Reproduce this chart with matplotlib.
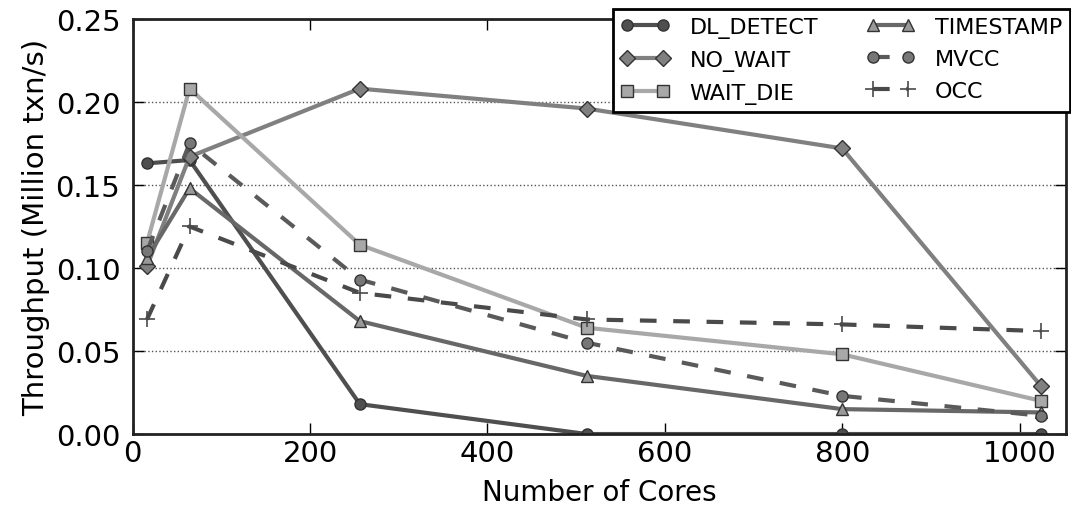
import matplotlib
matplotlib.use('Agg')
import matplotlib.pyplot as plt

# Cores on x axis
cores = [16, 64, 256, 512, 800, 1024]

# Throughput (million txn/s) per scheme
dl_detect = [0.163, 0.165, 0.018, 0.0, 0.0, 0.0]
no_wait = [0.101, 0.167, 0.208, 0.196, 0.172, 0.029]
wait_die = [0.115, 0.208, 0.114, 0.064, 0.048, 0.020]
timestamp = [0.106, 0.148, 0.068, 0.035, 0.015, 0.013]
mvcc = [0.110, 0.175, 0.093, 0.055, 0.023, 0.011]
occ = [0.069, 0.125, 0.085, 0.069, 0.066, 0.062]

fig = plt.figure(figsize=(10.71, 5.10), dpi=100)
ax = fig.add_axes([0.124, 0.147, 0.871, 0.814])

lw = 3
ax.plot(cores, dl_detect, '-o', color='#4f4f4f', lw=lw, ms=8, mec='#333333', label='DL_DETECT')
ax.plot(cores, no_wait, '-D', color='#808080', lw=lw, ms=8, mec='#333333', label='NO_WAIT')
ax.plot(cores, wait_die, '-s', color='#a8a8a8', lw=lw, ms=8, mec='#333333', label='WAIT_DIE')
ax.plot(cores, timestamp, '-^', color='#686868', lw=lw, ms=8, mfc='#999999', mec='#333333', label='TIMESTAMP')
ax.plot(cores, mvcc, '--o', color='#5a5a5a', lw=lw, ms=8, mfc='#777777', mec='#333333', dashes=(4, 4), label='MVCC')
ax.plot(cores, occ, '--+', color='#4a4a4a', lw=lw, ms=12, mew=1.2, dashes=(4, 4), label='OCC')

ax.set_xlim(0, 1052)
ax.set_ylim(0, 0.25)
ax.set_xticks([0, 200, 400, 600, 800, 1000])
ax.set_yticks([0.0, 0.05, 0.10, 0.15, 0.20, 0.25])
ax.set_yticklabels(['0.00', '0.05', '0.10', '0.15', '0.20', '0.25'])
ax.tick_params(direction='in', labelsize=21, length=8, top=True, right=True, width=1)
ax.tick_params(axis='y', pad=9)
ax.yaxis.grid(True, linestyle=':', color='#555555', lw=1)
for s in ax.spines.values():
    s.set_linewidth(2)
    s.set_color('#222222')

ax.set_xlabel('Number of Cores', fontsize=20, labelpad=8)
ax.set_ylabel('Throughput (Million txn/s)', fontsize=21, labelpad=4)

leg = fig.legend(loc='upper left', bbox_to_anchor=(613 / 1071, 1 - 10 / 510), ncol=2,
                 numpoints=2, fontsize=16, fancybox=False, framealpha=1, edgecolor='black',
                 handlelength=2.2, handletextpad=0.9, columnspacing=2.15,
                 labelspacing=0.55, borderpad=0.35, borderaxespad=0)
leg.get_frame().set_linewidth(2)

fig.savefig('out.png', dpi=100)
